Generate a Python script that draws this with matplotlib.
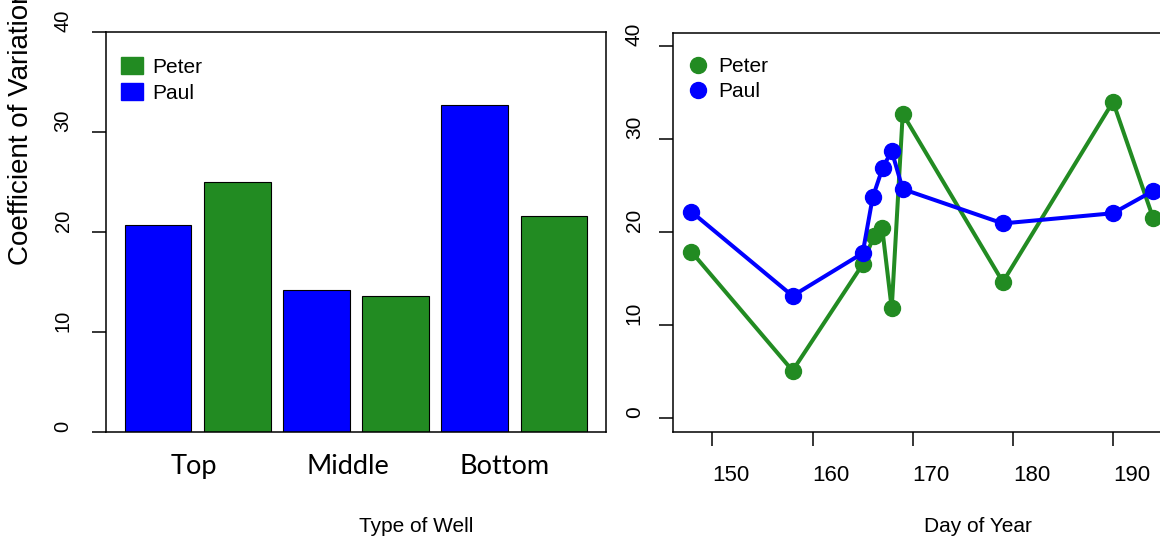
import matplotlib.pyplot as plt
from matplotlib.patches import Patch
from matplotlib.lines import Line2D

plt.rcParams['font.family'] = ['Liberation Sans', 'DejaVu Sans']

# Data
wells = ['Top', 'Middle', 'Bottom']
paul_cv = [20.7, 14.2, 32.7]
peter_cv = [25.0, 13.6, 21.6]

peter_day = [147.9, 158.0, 165.0, 166.1, 166.95, 167.9, 169.0, 179.0, 190.0, 194.0]
peter_val = [17.85, 5.05, 16.5, 19.5, 20.4, 11.75, 32.7, 14.6, 34.0, 21.5]
paul_day = [147.9, 158.0, 165.0, 166.0, 167.0, 167.9, 169.0, 179.0, 190.0, 194.0]
paul_val = [22.15, 13.1, 17.7, 23.7, 26.9, 28.7, 24.6, 20.9, 22.0, 24.4]

GREEN = '#228B22'
BLUE = '#0000FF'

W, H = 1160, 539
fig = plt.figure(figsize=(W / 100, H / 100), dpi=100)


def fx(px):
    return px / W


def fy(py):
    return 1 - py / H


# ---- left panel: bars
ax1 = fig.add_axes([fx(106), fy(432), 500 / W, 400 / H])
pos = []
vals = []
cols = []
for i in range(len(wells)):
    pos += [2 * i, 2 * i + 1]
    vals += [paul_cv[i], peter_cv[i]]
    cols += [BLUE, GREEN]
ax1.bar(pos, vals, width=0.84, color=cols, edgecolor='black', linewidth=0.8)
ax1.set_xlim(-0.66, 5.66)
ax1.set_ylim(0, 40)
ax1.set_xticks([0.45, 2.4, 4.38])
ax1.set_xticklabels(wells, fontsize=19.5, family=['Lato', 'DejaVu Sans'])
ax1.tick_params(axis='x', length=0, pad=16)
ax1.set_yticks([0, 10, 20, 30, 40])
ax1.tick_params(axis='y', length=10, width=1.1, pad=14, labelsize=14.5)
for lab in ax1.get_yticklabels():
    lab.set_rotation(90)
    lab.set_va('bottom')
    lab.set_ha('right')
for s in ax1.spines.values():
    s.set_linewidth(1.1)

ax1.legend(handles=[Patch(color=GREEN, label='Peter'), Patch(color=BLUE, label='Paul')],
           loc='upper left', bbox_to_anchor=(fx(121), fy(57)), bbox_transform=fig.transFigure,
           frameon=False, fontsize=15, borderpad=0, borderaxespad=0,
           handlelength=1.05, handleheight=0.87, handletextpad=0.45, labelspacing=0.3)

# ---- right panel: lines
ax2 = fig.add_axes([fx(673), fy(432), 498.5 / W, 399 / H])
ax2.plot(peter_day, peter_val, '-o', color=GREEN, linewidth=2.9, markersize=11.5)
ax2.plot(paul_day, paul_val, '-o', color=BLUE, linewidth=2.9, markersize=11.5)
ax2.set_xlim(146.06, 195.84)
ax2.set_ylim(-1.55, 41.4)
ax2.set_xticks([150, 160, 170, 180, 190])
ax2.tick_params(axis='x', length=10, width=1.1, pad=14, labelsize=16)
for lab in ax2.get_xticklabels():
    lab.set_ha('left')
ax2.set_yticks([0, 10, 20, 30, 40])
ax2.tick_params(axis='y', length=10, width=1.1, pad=11, labelsize=15)
for lab in ax2.get_yticklabels():
    lab.set_rotation(90)
    lab.set_va('bottom')
    lab.set_ha('right')
for s in ax2.spines.values():
    s.set_linewidth(1.1)

ax2.legend(handles=[Line2D([], [], marker='o', linestyle='', color=GREEN, markersize=11.5, label='Peter'),
                    Line2D([], [], marker='o', linestyle='', color=BLUE, markersize=11.5, label='Paul')],
           loc='upper left', bbox_to_anchor=(fx(684), fy(57)), bbox_transform=fig.transFigure,
           frameon=False, fontsize=15, borderpad=0, borderaxespad=0,
           handlelength=1.3, handletextpad=0.35, labelspacing=0.3)

# ---- axis titles (placed in figure pixels, as in the cropped original)
fig.text(fx(21), fy(265), 'Coefficient of Variation', rotation=90, ha='center', va='bottom', fontsize=20)
fig.text(fx(416), fy(526), 'Type of Well', ha='center', va='center', fontsize=15)
fig.text(fx(978), fy(526), 'Day of Year', ha='center', va='center', fontsize=15)

fig.savefig('out.png', dpi=100)
plt.close(fig)
